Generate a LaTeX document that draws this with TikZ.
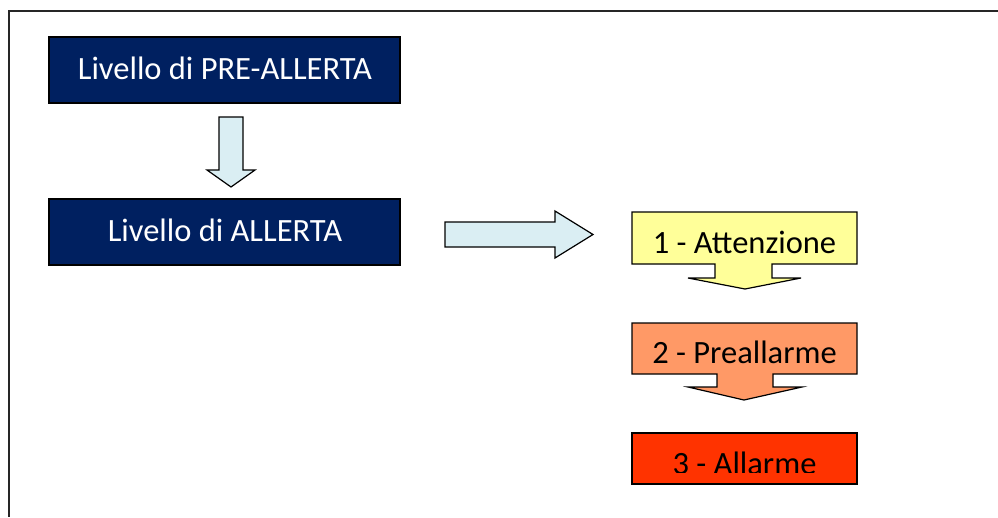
\documentclass[tikz,border=0pt]{standalone}
\usepackage{fontspec}
\setmainfont{Carlito}
\definecolor{navy}{HTML}{002060}
\definecolor{arrowblue}{HTML}{DAEEF3}
\definecolor{attyellow}{HTML}{FFFF99}
\definecolor{preorange}{HTML}{FF9966}
\definecolor{allred}{HTML}{FF3300}
\begin{document}
\begin{tikzpicture}[x=1pt,y=-1pt,
  navybox/.style={draw=black,line width=1.3pt,fill=navy,rectangle,inner sep=0pt},
  blockarrow/.style={draw=black,line width=1.2pt,fill=arrowblue,line join=miter},
  callout/.style={draw=black,line width=1.2pt,line join=miter},
  label/.style={anchor=base,inner sep=0pt,font=\fontsize{32.5}{38}\selectfont},
]
\useasboundingbox (0,0) rectangle (998,517);
% frame
\draw[line width=2.2pt,black!85] (998,11) -- (9,11) -- (9,517);

% navy boxes
\node[navybox,minimum width=351pt,minimum height=66pt] (pre) at (224.5,70) {};
\node[label,text=white] (pretext) at (225,79) {Livello di PRE-ALLERTA};
\node[navybox,minimum width=351pt,minimum height=66pt] (all) at (224.5,232) {};
\node[label,text=white] (alltext) at (225,241) {Livello di ALLERTA};

% down block arrow
\draw[blockarrow] (219,117) -- (243,117) -- (243,170) -- (255,170) -- (231,187)
  -- (207,170) -- (219,170) -- cycle;

% right block arrow
\draw[blockarrow] (445,222) -- (555,222) -- (555,211) -- (593,234.5) -- (555,258)
  -- (555,247) -- (445,247) -- cycle;

% callout 1
\draw[callout,fill=attyellow] (632,212) -- (857,212) -- (857,264) -- (772,264) -- (772,278)
  -- (801,278) -- (745,289) -- (688,278) -- (715,278) -- (715,264) -- (632,264) -- cycle;
\node[label,text=black] (att) at (744.5,253) {1 - Attenzione};

% callout 2
\draw[callout,fill=preorange] (632,323) -- (857,323) -- (857,374) -- (773,374) -- (773,387)
  -- (802,387) -- (744,400) -- (688,387) -- (717,387) -- (717,374) -- (632,374) -- cycle;
\node[label,text=black] (pre2) at (744.5,363) {2 - Preallarme};

% box 3
\node[draw=black,line width=1.2pt,fill=allred,minimum width=225pt,minimum height=51pt,inner sep=0pt] (al3) at (744.5,458.5) {};
\begin{scope}
  \clip (640,440) rectangle (850,472.5);
  \node[label,text=black] (al3text) at (744.5,474.5) {3 - Allarme};
\end{scope}
\end{tikzpicture}
\end{document}
